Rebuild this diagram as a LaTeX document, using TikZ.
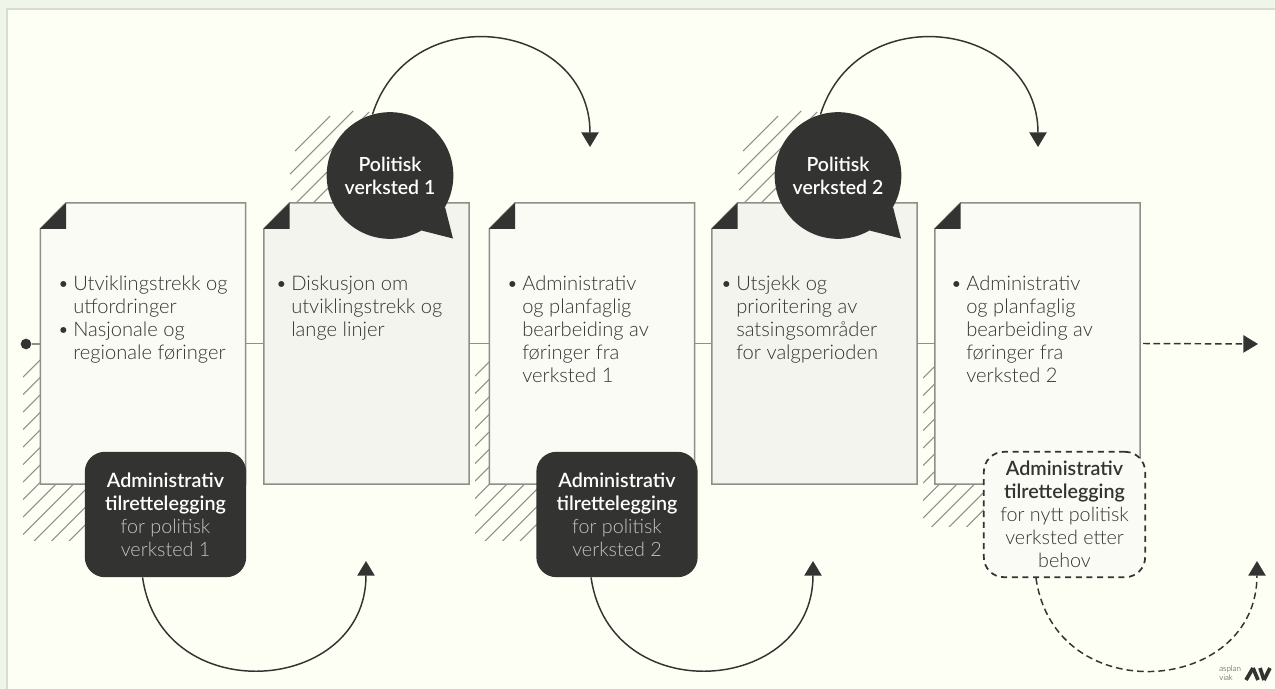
\documentclass[tikz,border=0pt]{standalone}
\usepackage{fontspec}
\setmainfont{Lato}[UprightFont=* Light,BoldFont=* Semibold]
\usetikzlibrary{arrows.meta,calc}
\definecolor{darkfill}{HTML}{333432}
\definecolor{rimgreen}{HTML}{EFF5E9}
\definecolor{rimgrey}{HTML}{D9DCD6}
\definecolor{paper}{HTML}{FDFFF5}
\definecolor{pagelight}{HTML}{FAFBF5}
\definecolor{pageshade}{HTML}{F3F4EE}
\definecolor{pageline}{HTML}{8E8F88}
\definecolor{bodytext}{HTML}{333432}
\definecolor{softtext}{HTML}{C4C5C0}
\tikzset{
    pagebox/.style={minimum width=154pt,minimum height=211pt,inner sep=0pt,outer sep=0pt},
    pageedge/.style={draw=pageline,line width=1.1pt,fill=#1},
    listtext/.style={anchor=north west,align=left,inner sep=0pt,text=bodytext,font=\fontsize{15.1}{17.2}\selectfont},
    bubble/.style={circle,fill=darkfill,text=white,minimum size=95pt,inner sep=0pt,align=center,font=\fontsize{14.6}{17.2}\selectfont\bfseries},
    adminbox/.style={rounded corners=15pt,fill=darkfill,text=softtext,minimum width=121pt,minimum height=94pt,inner sep=0pt,align=center,font=\fontsize{14.8}{17.2}\selectfont},
    dashbox/.style={adminbox,fill=pagelight,draw=darkfill,line width=1.3pt,dash pattern=on 4.5pt off 3.5pt,text=bodytext},
    flow/.style={draw=darkfill,line width=1.1pt,-{Triangle[length=11pt,width=13pt]}},
    hatchline/.style={draw=pageline,line width=0.8pt},
}
\newcommand{\punkt}{\llap{\textbullet\hspace{3pt}}}
\begin{document}
\begin{tikzpicture}[x=0.75pt,y=-0.75pt]
    \useasboundingbox (0,0) rectangle (1275,689);
    \fill[rimgreen] (0,0) rectangle (1275,689);
    \fill[rimgrey] (6,8) rectangle (1275,689);
    \fill[paper] (8,10) rectangle (1275,689);

    \foreach \l/\b/\s in {23/540/400, 475/540/851, 923/526/1301}
    {
        \begin{scope}
            \clip (\l,355) rectangle (\l+100,\b);
            \foreach \k [evaluate={\c=\s+17.5*\k}] in {0,1,...,13}
                \draw[hatchline] (\l,\c-\l) -- (\l+300,\c-\l-300);
        \end{scope}
    }
    \foreach \dx in {-448,0}
    {
        \draw[hatchline] (743+\dx,151) -- (778+\dx,116);
        \draw[hatchline] (738+\dx,174) -- (801+\dx,111);
        \draw[hatchline] (739+\dx,190) -- (817+\dx,112);
        \draw[hatchline] (744+\dx,203) -- (830+\dx,117);
        \draw[hatchline] (761+\dx,203) -- (840+\dx,124);
    }

    \foreach \n/\x/\col in {1/143/pagelight, 2/366.5/pageshade, 3/592/pagelight, 4/814.5/pageshade, 5/1037.5/pagelight}
    {
        \node[pagebox] (page\n) at (\x,343.5) {};
        \draw[pageedge=\col] ($(page\n.north)+(-77,0)$) -- (page\n.north east) -- (page\n.south east) -- (page\n.south west) -- ($(page\n.north west)+(0,26)$) -- cycle;
        \fill[darkfill] ($(page\n.north)+(-77,0)$) -- ++(0,26) -- ++(-26,0) -- cycle;
    }

    \node[circle,fill=darkfill,minimum size=8pt,inner sep=0pt] (start) at (26,344) {};
    \coordinate (endtip) at (1258,344);
    \draw[pageline,line width=1.1pt] (start) -- (page1.west |- start);
    \foreach \a/\b in {1/2,2/3,3/4,4/5}
        \draw[pageline,line width=1.1pt] (page\a.east) -- (page\b.west);
    \draw[flow,dashed,dash pattern=on 5pt off 2.7pt] ($(page5.east)+(3,0)$) -- (endtip);

    \node[listtext] (text1) at (73,276) {\punkt Utviklingstrekk og\\utfordringer\\\punkt Nasjonale og\\regionale føringer};
    \node[listtext] (text2) at (291,276) {\punkt Diskusjon om\\utviklingstrekk og\\lange linjer};
    \node[listtext] (text3) at (522,276) {\punkt Administrativ\\og planfaglig\\bearbeiding av\\føringer fra\\verksted 1};
    \node[listtext] (text4) at (736,276) {\punkt Utsjekk og\\prioritering av\\satsingsområder\\for valgperioden};
    \node[listtext] (text5) at (966,276) {\punkt Administrativ\\og planfaglig\\bearbeiding av\\føringer fra\\verksted 2};

    \foreach \n/\x/\t in {1/390/1, 2/838/2}
    {
        \node[bubble] (bub\n) at (\x,175.5) {Politisk\\verksted \t};
        \coordinate (tail\n) at ($(bub\n.center)+(63,63)$);
        \fill[darkfill] (bub\n.-30) -- (tail\n) -- (bub\n.-60) -- cycle;
        \coordinate (tip\n) at (\x+200,147);
        \draw[flow] (bub\n.106) .. controls +(38,-119) and ($(tip\n)+(0,-125)$) .. (tip\n);
    }

    \node[adminbox] (admin1) at (165.5,514.5) {\textcolor{white}{\textbf{Administrativ}}\\\textcolor{white}{\textbf{tilrettelegging}}\\for politisk\\verksted 1};
    \node[adminbox] (admin2) at (617,514.5) {\textcolor{white}{\textbf{Administrativ}}\\\textcolor{white}{\textbf{tilrettelegging}}\\for politisk\\verksted 2};
    \node[dashbox] (admin3) at (1064.5,514.5) {\textbf{Administrativ}\\\textbf{tilrettelegging}\\for nytt politisk\\verksted etter\\behov};

    \coordinate (tip3) at (366,561);
    \coordinate (tip4) at (813,561);
    \coordinate (tip5) at (1257,561);
    \draw[flow] ($(admin1.south west)+(58,0)$) .. controls +(19,133) and ($(tip3)+(0,134)$) .. (tip3);
    \draw[flow] ($(admin2.south west)+(55,0)$) .. controls +(19,133) and ($(tip4)+(0,134)$) .. (tip4);
    \draw[flow,dashed,dash pattern=on 5pt off 3pt] ($(admin3.south west)+(53,0)$) .. controls +(19,133) and ($(tip5)+(0,134)$) .. (tip5);

    \node[anchor=west,align=left,inner sep=0pt,text=darkfill,font=\fontsize{6}{7}\selectfont] (logotext) at (1219,673) {asplan\\viak};
    \draw[darkfill,line width=2.8pt] (1246,680) -- (1253,668);
    \draw[darkfill,line width=2.8pt] (1253,668) -- (1258,680);
    \draw[darkfill,line width=2.8pt] (1260,668) -- (1264,680);
    \draw[darkfill,line width=2.8pt] (1264,680) -- (1270,668);
\end{tikzpicture}
\end{document}
